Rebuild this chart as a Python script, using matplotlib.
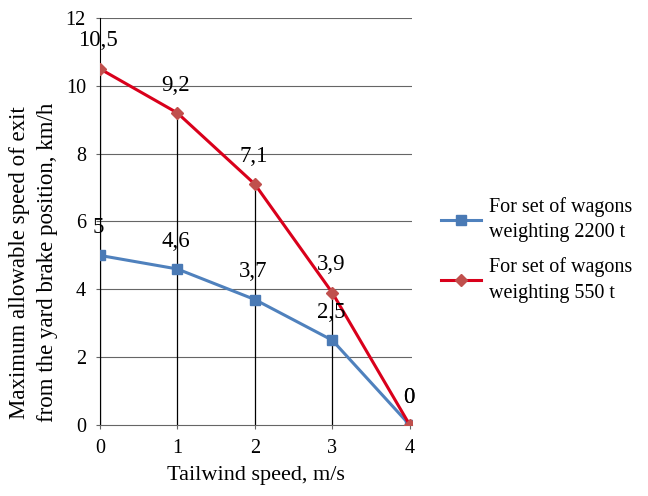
import matplotlib.pyplot as plt

plt.rcParams['font.family'] = ['Liberation Serif', 'DejaVu Serif']

# data
wind_speed = [0, 1, 2, 3, 4]
speed_2200 = [5, 4.6, 3.7, 2.5, 0]
speed_550 = [10.5, 9.2, 7.1, 3.9, 0]
label_2200 = 'For set of wagons\nweighting 2200 t'
label_550 = 'For set of wagons\nweighting 550 t'
y_ticks = [0, 2, 4, 6, 8, 10, 12]

fig = plt.figure(figsize=(6.48, 4.96), dpi=100)
ax = fig.add_axes([0.154, 0.143, 0.482, 0.821])

# horizontal gridlines
for y in y_ticks[1:]:
    ax.axhline(y, color='#666666', lw=0.8, zorder=0)

# drop lines from the upper series
for x, y1, y2 in zip(wind_speed, speed_2200, speed_550):
    ax.plot([x, x], [0, max(y1, y2)], color='black', lw=0.9, zorder=1)

ax.plot(wind_speed, speed_2200, color='#4f81bd', lw=2.2, marker='s',
        markersize=7.5, markerfacecolor='#4a7ab5', markeredgecolor='#4a7ab5',
        label=label_2200, zorder=3)
ax.plot(wind_speed, speed_550, color='#d9001b', lw=2.2, marker='D',
        markersize=6, markerfacecolor='#c0504d', markeredgecolor='#c0504d',
        label=label_550, zorder=4)

# data labels
for series in (speed_2200, speed_550):
    for x, y in zip(wind_speed, series):
        txt = ('%g' % y).replace('.', ',')
        ax.annotate(txt, (x, y), xytext=(-1, 20), textcoords='offset points',
                    ha='center', va='center', fontsize=16.5, zorder=5)

ax.set_xlim(0, 4.03)
ax.set_ylim(0, 12)
ax.set_xticks(wind_speed)
ax.set_yticks(y_ticks)
ax.tick_params(length=3, width=0.8, color='#666666', labelsize=14.5, pad=7)
for side in ('top', 'right'):
    ax.spines[side].set_visible(False)
ax.spines['bottom'].set_color('#666666')
ax.spines['left'].set_color('black')

ax.set_xlabel('Tailwind speed, m/s', fontsize=16, labelpad=6)
ax.set_ylabel('Maximum allowable speed of exit\nfrom the yard brake position, km/h',
              fontsize=16.5, linespacing=1.4)
ax.yaxis.set_label_coords(-0.135, 0.4)

leg = ax.legend(loc='center left', bbox_to_anchor=(1.002, 0.43), frameon=False,
                fontsize=14.5, handlelength=2.0, handletextpad=0.4,
                labelspacing=0.75, borderaxespad=1.0)
for t in leg.get_texts():
    t.set_linespacing(1.45)

plt.savefig('out.png', dpi=100)
